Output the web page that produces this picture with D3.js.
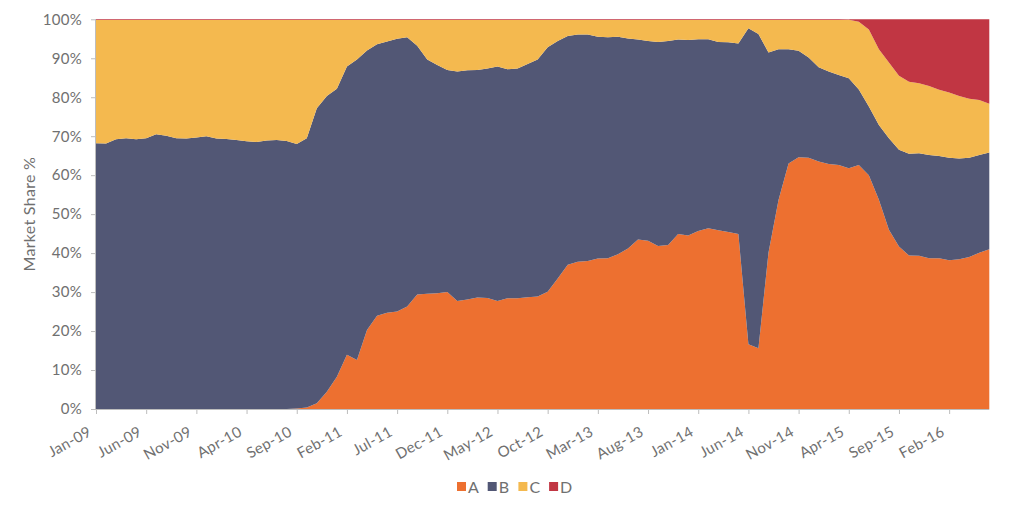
<!DOCTYPE html>
<html>
<head>
<meta charset="utf-8">
<script src="https://cdn.jsdelivr.net/npm/d3@7"></script>
<style>
  html, body { margin: 0; padding: 0; background: #fff; }
  svg { display: block; }
  svg text { font-family: "Lato", "Open Sans", sans-serif; font-weight: 400; fill: #707070; }
  .axis text { font-size: 15px; letter-spacing: 0.3px; }
  .axis path, .axis line { stroke: #bdbdbd; }
  .axis-label { font-size: 16px; letter-spacing: 0.3px; }
  .legend text { font-size: 16px; }
</style>
</head>
<body>
<div id="chart"></div>
<script>
// monthly share (%) Jan-09 .. Jun-16
const months = d3.timeMonth
  .range(new Date(2009, 0, 1), new Date(2016, 6, 1))
  .map(d3.timeFormat("%b-%y"));

const keys = ["A", "B", "C", "D"];

const seriesA = [
  0, 0, 0, 0, 0, 0, 0, 0, 0, 0,
  0, 0, 0, 0, 0, 0, 0, 0, 0, 0,
  0.1, 0.4, 1.5, 4.4, 8.3, 13.9, 12.6, 20.3, 23.9, 24.7,
  25.0, 26.3, 29.4, 29.6, 29.7, 30.0, 27.7, 28.1, 28.6, 28.5,
  27.7, 28.4, 28.4, 28.7, 28.9, 30.1, 33.5, 37.0, 37.8, 38.0,
  38.6, 38.7, 39.7, 41.2, 43.5, 43.2, 41.8, 42.1, 44.9, 44.5,
  45.7, 46.4, 45.9, 45.4, 44.9, 16.6, 15.6, 40.1, 53.6, 63.0,
  64.6, 64.5, 63.5, 62.9, 62.6, 61.8, 62.6, 60.0, 53.7, 46.0,
  41.7, 39.4, 39.3, 38.7, 38.7, 38.2, 38.4, 39.0, 40.1, 41.0
];

const seriesB = [
  68.2, 68.1, 69.2, 69.5, 69.2, 69.5, 70.5, 70.1, 69.5, 69.4,
  69.7, 70.0, 69.4, 69.3, 69.0, 68.7, 68.5, 68.9, 69.0, 68.8,
  67.9, 69.1, 75.7, 75.9, 73.9, 74.0, 77.1, 71.7, 69.7, 69.6,
  70.0, 69.1, 63.8, 60.1, 58.6, 57.0, 58.9, 58.8, 58.4, 58.9,
  60.2, 58.8, 59.0, 59.8, 60.8, 62.7, 60.9, 58.7, 58.3, 58.1,
  56.9, 56.7, 55.8, 53.9, 51.3, 51.2, 52.4, 52.3, 49.9, 50.2,
  49.2, 48.5, 48.3, 48.7, 48.9, 81.1, 80.6, 51.4, 38.7, 29.3,
  27.3, 25.7, 24.2, 23.7, 23.1, 23.1, 19.4, 17.6, 19.2, 23.5,
  24.8, 26.1, 26.3, 26.5, 26.2, 26.3, 25.9, 25.5, 25.1, 24.8
];

const seriesC = [
  31.6, 31.7, 30.6, 30.3, 30.6, 30.3, 29.3, 29.7, 30.3, 30.4,
  30.1, 29.8, 30.4, 30.5, 30.8, 31.1, 31.3, 30.9, 30.8, 31.0,
  31.8, 30.3, 22.6, 19.5, 17.6, 11.9, 10.1, 7.8, 6.2, 5.5,
  4.8, 4.4, 6.6, 10.1, 11.5, 12.8, 13.2, 12.9, 12.8, 12.4,
  11.9, 12.6, 12.4, 11.3, 10.1, 7.0, 5.4, 4.1, 3.7, 3.7,
  4.3, 4.4, 4.3, 4.7, 5.0, 5.4, 5.6, 5.4, 5.0, 5.1,
  4.9, 4.9, 5.6, 5.7, 6.0, 2.1, 3.6, 8.3, 7.5, 7.5,
  7.9, 9.6, 12.1, 13.2, 14.1, 15.0, 17.4, 19.8, 19.4, 19.4,
  19.0, 18.5, 18.0, 17.7, 17.0, 16.7, 16.0, 15.1, 14.1, 12.5
];

const seriesD = [
  0.2, 0.2, 0.2, 0.2, 0.2, 0.2, 0.2, 0.2, 0.2, 0.2,
  0.2, 0.2, 0.2, 0.2, 0.2, 0.2, 0.2, 0.2, 0.2, 0.2,
  0.2, 0.2, 0.2, 0.2, 0.2, 0.2, 0.2, 0.2, 0.2, 0.2,
  0.2, 0.2, 0.2, 0.2, 0.2, 0.2, 0.2, 0.2, 0.2, 0.2,
  0.2, 0.2, 0.2, 0.2, 0.2, 0.2, 0.2, 0.2, 0.2, 0.2,
  0.2, 0.2, 0.2, 0.2, 0.2, 0.2, 0.2, 0.2, 0.2, 0.2,
  0.2, 0.2, 0.2, 0.2, 0.2, 0.2, 0.2, 0.2, 0.2, 0.2,
  0.2, 0.2, 0.2, 0.2, 0.2, 0.1, 0.6, 2.6, 7.7, 11.1,
  14.5, 16.0, 16.4, 17.1, 18.1, 18.8, 19.7, 20.4, 20.7, 21.7
];

const yTicks = [0, 10, 20, 30, 40, 50, 60, 70, 80, 90, 100];

const colors = { A: "#ED7030", B: "#525775", C: "#F4B94F", D: "#C13643" };

// build rows for d3.stack
const rows = months.map((m, i) => ({
  month: m,
  A: seriesA[i],
  B: seriesB[i],
  C: seriesC[i],
  D: seriesD[i],
}));

const totalWidth = 1024;
const totalHeight = 511;
const margin = { top: 19.3, right: 34.7, bottom: 102, left: 96 };
const width = totalWidth - margin.left - margin.right;
const height = totalHeight - margin.top - margin.bottom;

const svg = d3
  .select("#chart")
  .append("svg")
  .attr("width", totalWidth)
  .attr("height", totalHeight);

const g = svg
  .append("g")
  .attr("transform", `translate(${margin.left},${margin.top})`);

const x = d3.scalePoint().domain(months).range([0, width]);
const y = d3.scaleLinear().domain([0, 100]).range([height, 0]);

const stacked = d3.stack().keys(keys)(rows);

const area = d3
  .area()
  .x((d) => x(d.data.month))
  .y0((d) => y(d[0]))
  .y1((d) => y(d[1]));

g.selectAll(".layer")
  .data(stacked)
  .enter()
  .append("path")
  .attr("class", "layer")
  .attr("fill", (d) => colors[d.key])
  .attr("d", area);

// y axis
const yAxis = g
  .append("g")
  .attr("class", "axis")
  .call(
    d3.axisLeft(y)
      .tickValues(yTicks)
      .tickSize(5)
      .tickPadding(9)
      .tickFormat((d) => d + "%")
  );
yAxis.select(".domain").attr("d", `M-0.5,${height}V0`);

// x axis, a tick every 5 months
const xAxis = g
  .append("g")
  .attr("class", "axis")
  .attr("transform", `translate(0,${height})`)
  .call(
    d3.axisBottom(x)
      .tickValues(months.filter((m, i) => i % 5 === 0))
      .tickSize(5)
  );
xAxis.select(".domain").attr("d", `M0,0.5H${width}`);
xAxis
  .selectAll("text")
  .attr("text-anchor", "end")
  .attr("x", 0)
  .attr("y", 0)
  .attr("dy", 0)
  .attr("transform", "translate(-4,26) rotate(-29)");

// y axis label
g.append("text")
  .attr("class", "axis-label")
  .attr("transform", "rotate(-90)")
  .attr("x", -height / 2)
  .attr("y", -61)
  .attr("text-anchor", "middle")
  .text("Market Share %");

// legend
const legend = svg
  .append("g")
  .attr("class", "legend")
  .attr("transform", "translate(457,482)");

const item = legend
  .selectAll(".item")
  .data(keys)
  .enter()
  .append("g")
  .attr("class", "item")
  .attr("transform", (d, i) => `translate(${i * 30.7},0)`);

item
  .append("rect")
  .attr("width", 9)
  .attr("height", 9)
  .attr("fill", (d) => colors[d]);

item
  .append("text")
  .attr("x", 11)
  .attr("y", 10.5)
  .text((d) => d);
</script>
</body>
</html>
